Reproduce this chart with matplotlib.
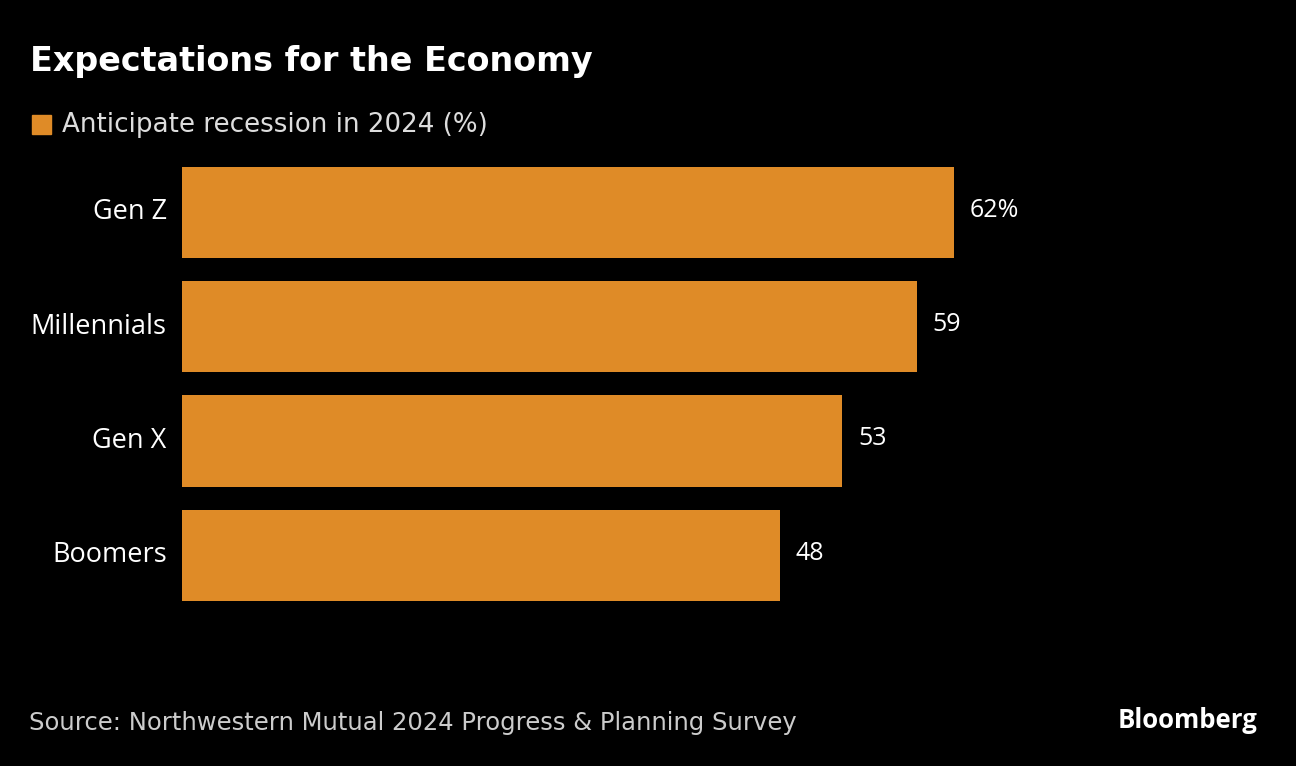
import matplotlib.pyplot as plt

# data
groups = ['Gen Z', 'Millennials', 'Gen X', 'Boomers']
recession = [62, 59, 53, 48]
value_labels = ['62%', '59', '53', '48']

bar_color = '#DF8B27'
bg = '#000000'

fig = plt.figure(figsize=(12.96, 7.66), dpi=100, facecolor=bg)
ax = fig.add_axes([182 / 1296, 0.2003, 996 / 1296, 0.597], facecolor=bg)

y = list(range(len(groups)))
ax.barh(y, recession, height=0.8, color=bar_color)
ax.set_xlim(0, 80)
ax.set_ylim(3.5, -0.5)

for yi, v, lab in zip(y, recession, value_labels):
    ax.text(v + 1.3, yi - 0.02, lab, va='center', ha='left', color='white',
            fontsize=18, family='Open Sans')

ax.set_yticks(y)
ax.set_yticklabels(groups, fontsize=19.5, color='white', family='Open Sans')
for t in ax.get_yticklabels():
    t.set_verticalalignment('center')
ax.tick_params(axis='y', length=0, pad=11)
ax.set_xticks([])
for s in ax.spines.values():
    s.set_visible(False)

# title, legend, footer
fig.text(30 / 1296, 1 - 62 / 766, 'Expectations for the Economy', color='white',
         fontsize=24, fontweight='bold', family='DejaVu Sans', va='center')
fig.patches.append(plt.Rectangle((32 / 1296, 1 - 134 / 766), 19 / 1296, 19 / 766,
                                 transform=fig.transFigure, color=bar_color))
fig.text(62 / 1296, 1 - 125 / 766, 'Anticipate recession in 2024 (%)', color='#DDDDDD',
         fontsize=18.8, family='DejaVu Sans', va='center')
fig.text(29 / 1296, 1 - 723 / 766, 'Source: Northwestern Mutual 2024 Progress & Planning Survey',
         color='#CCCCCC', fontsize=17.5, family='DejaVu Sans', va='center')
fig.text(1257 / 1296, 1 - 721 / 766, 'Bloomberg', color='white', fontsize=18.5,
         fontweight='bold', family='Open Sans', va='center', ha='right')

fig.savefig('out.png', dpi=100, facecolor=bg)
